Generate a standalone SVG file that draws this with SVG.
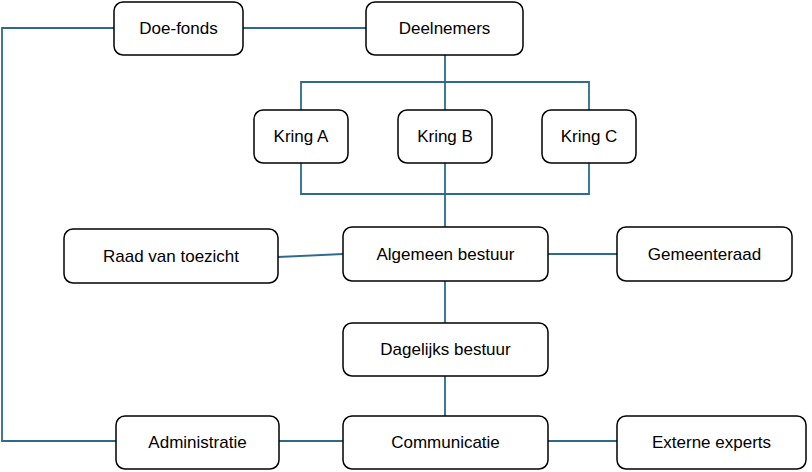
<svg xmlns="http://www.w3.org/2000/svg" width="812" height="472" viewBox="0 0 812 472">
<style>
.n rect{fill:#fff;stroke:#000;stroke-width:1.5}
.n text{font-family:"Liberation Sans",Arial,sans-serif;font-size:17px;fill:#000;text-anchor:middle;dominant-baseline:central}
#c path{fill:none;stroke:#2E6A8E;stroke-width:1.8}
</style>
<rect width="812" height="472" fill="#fff"/>
<g id="c">
<path d="M243 28H366"/>
<path d="M114 28H2V441H116"/>
<path d="M445 55V110M301 110V82H589V110"/>
<path d="M301 163V194H589V163M445 163V227"/>
<path d="M278 257L343 254"/>
<path d="M548 254H617"/>
<path d="M445 281V323M445 376V416"/>
<path d="M279 441H343"/>
<path d="M548 441H617"/>
</g>
<g id="doefonds" class="n"><rect x="114" y="2" width="129" height="53" rx="9"/><text x="178.5" y="28.5">Doe-fonds</text></g>
<g id="deelnemers" class="n"><rect x="366" y="2" width="157" height="53" rx="9"/><text x="444.5" y="28.5">Deelnemers</text></g>
<g id="kringa" class="n"><rect x="254" y="110" width="94" height="53" rx="9"/><text x="301" y="136.5">Kring A</text></g>
<g id="kringb" class="n"><rect x="398" y="110" width="94" height="53" rx="9"/><text x="445" y="136.5">Kring B</text></g>
<g id="kringc" class="n"><rect x="542" y="110" width="94" height="53" rx="9"/><text x="589" y="136.5">Kring C</text></g>
<g id="raad" class="n"><rect x="64" y="229" width="214" height="54" rx="9"/><text x="171" y="256">Raad van toezicht</text></g>
<g id="algemeen" class="n"><rect x="343" y="227" width="205" height="54" rx="9"/><text x="445.5" y="254">Algemeen bestuur</text></g>
<g id="gemeenteraad" class="n"><rect x="617" y="227" width="175" height="54" rx="9"/><text x="704.5" y="254">Gemeenteraad</text></g>
<g id="dagelijks" class="n"><rect x="343" y="323" width="205" height="53" rx="9"/><text x="445.5" y="349.5">Dagelijks bestuur</text></g>
<g id="administratie" class="n"><rect x="116" y="416" width="163" height="53" rx="9"/><text x="197.5" y="442.5">Administratie</text></g>
<g id="communicatie" class="n"><rect x="343" y="416" width="205" height="53" rx="9"/><text x="445.5" y="442.5">Communicatie</text></g>
<g id="externe" class="n"><rect x="617" y="416" width="189" height="53" rx="9"/><text x="711.5" y="442.5">Externe experts</text></g>
</svg>
